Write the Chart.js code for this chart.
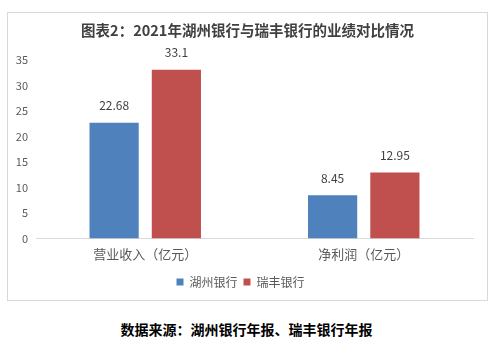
<!DOCTYPE html>
<html>
<head>
<meta charset="utf-8">
<script src="https://cdn.jsdelivr.net/npm/chart.js@4/dist/chart.umd.min.js"></script>
<style>
  body { margin: 0; background: #fff; width: 501px; height: 352px; position: relative; overflow: hidden; }
  #box { position: absolute; left: 7px; top: 12px; width: 479px; height: 287px; border: 1px solid #d9d9d9; }
  #foot { position: absolute; left: 0; width: 493px; top: 319px; text-align: center;
          font: bold 14px "Noto Sans CJK SC", sans-serif; color: #000; }
</style>
</head>
<body>
<div id="box"><canvas id="canvas" width="479" height="287"></canvas></div>
<div id="foot">数据来源：湖州银行年报、瑞丰银行年报</div>
<script>
let colorBlue = "#4F81BD";
let colorRed = "#C0504D";
let fontFamily = "'Noto Sans CJK SC', sans-serif";

let chartTitle = "图表2：2021年湖州银行与瑞丰银行的业绩对比情况";
let categories = ["营业收入（亿元）", "净利润（亿元）"];
let huzhouValues = [22.68, 8.45];
let ruifengValues = [33.1, 12.95];

// title centred on the whole box, value labels above each bar
let extras = {
    id: "extras",
    afterDraw(chart) {
        let ctx = chart.ctx;
        ctx.save();
        ctx.font = "bold 14.5px " + fontFamily;
        ctx.fillStyle = "#404040";
        ctx.textAlign = "center";
        ctx.textBaseline = "middle";
        ctx.fillText(chartTitle, chart.width / 2, 17);

        ctx.font = "12px " + fontFamily;
        ctx.textBaseline = "bottom";
        chart.data.datasets.forEach((ds, i) => {
            chart.getDatasetMeta(i).data.forEach((bar, j) => {
                ctx.fillText(String(ds.data[j]), bar.x, bar.y - 11);
            });
        });
        ctx.restore();
    }
};

new Chart(document.getElementById("canvas").getContext("2d"), {
    type: "bar",
    data: {
        labels: categories,
        datasets: [{
            label: "湖州银行",
            data: huzhouValues,
            backgroundColor: colorBlue
        }, {
            label: "瑞丰银行",
            data: ruifengValues,
            backgroundColor: colorRed
        }]
    },
    options: {
        responsive: false,
        animation: false,
        categoryPercentage: 0.57,
        barPercentage: 0.79,
        layout: {
            padding: { left: 0, right: 14, top: 47, bottom: 2 }
        },
        plugins: {
            legend: {
                position: "bottom",
                labels: {
                    boxWidth: 7,
                    boxHeight: 7,
                    padding: 6,
                    color: "#595959",
                    font: { family: fontFamily, size: 12 }
                }
            },
            tooltip: { enabled: false }
        },
        scales: {
            x: {
                grid: { display: false, drawTicks: false },
                border: { color: "#d9d9d9" },
                ticks: {
                    color: "#595959",
                    padding: 8,
                    font: { family: fontFamily, size: 13 }
                }
            },
            y: {
                min: 0,
                max: 35,
                afterFit: (scale) => { scale.width = 28; },
                grid: { display: false, drawTicks: false },
                border: { display: false },
                ticks: {
                    stepSize: 5,
                    color: "#595959",
                    padding: 8,
                    font: { family: fontFamily, size: 11 }
                }
            }
        }
    },
    plugins: [extras]
});
</script>
</body>
</html>
